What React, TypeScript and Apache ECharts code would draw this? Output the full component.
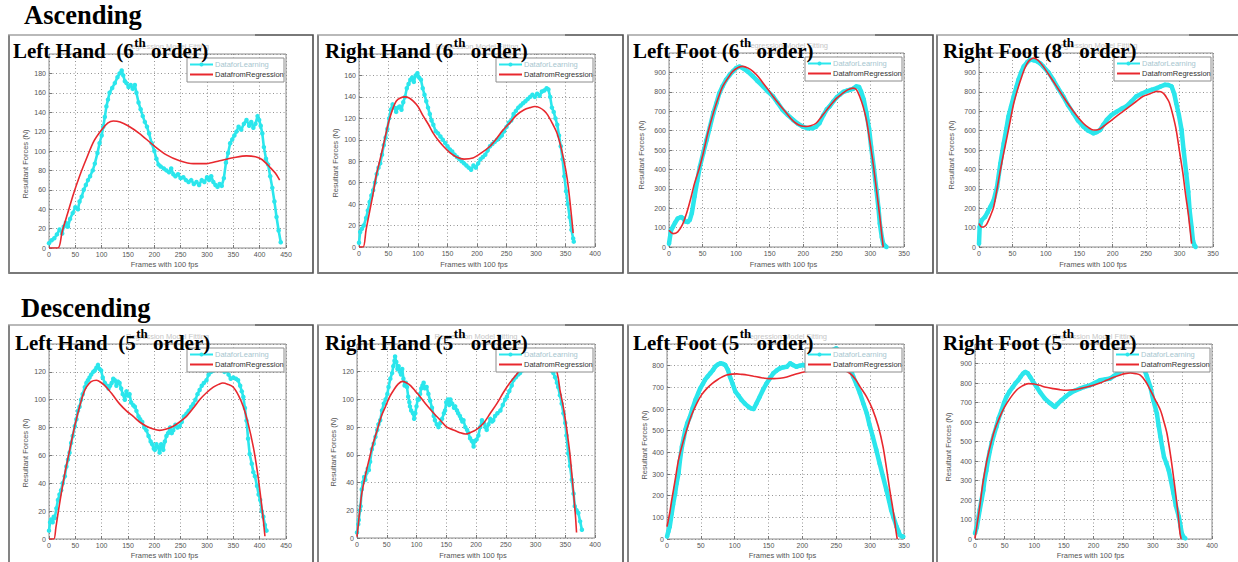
import React, { useEffect, useRef } from 'react';
import * as echarts from 'echarts';

// ---------------- DATA ----------------
// Ascending – Left Hand (6th order)
const ascLHx = [0,5,10,15,20,25,28,32,36,40,45,50,55,58,62,66,70,74,78,83,87,92,96,100,103,106,109,112,115,120,125,130,134,138,141,144,147,151,155,159,163,166,170,174,178,182,186,190,195,200,204,208,212,218,223,228,232,236,240,245,250,255,260,265,270,275,280,285,290,295,300,304,308,312,316,320,324,328,332,336,340,344,348,352,356,360,365,370,375,380,384,388,392,396,399,402,405,408,412,416,420,424,428,432,436,440];
const ascLHy = [5,8,10,14,19,15,22,26,22,30,36,42,40,48,53,60,65,70,74,80,87,98,108,116,125,135,146,153,160,165,170,176,180,183,178,172,170,166,168,164,168,160,150,143,136,130,125,118,108,100,92,86,84,82,80,78,82,76,74,76,72,73,70,68,70,66,68,65,70,68,73,70,74,68,65,63,66,64,72,88,98,108,112,116,120,125,122,128,132,126,130,124,128,136,132,126,118,104,92,86,74,62,48,32,18,6];
const ascLHfitX = [0,17,25,35,46,58,71,85,100,112,122,135,150,172,198,223,248,274,299,324,350,375,392,405,420,430,438];
const ascLHfitY = [0,0,17,35,55,74,92,110,122,129,131,130,126,118,106,96,90,87,87,90,93,95,94,91,83,77,70];

// Ascending – Right Hand (6th order)
const ascRHx = [0,2,5,8,12,15,18,21,24,27,30,33,36,39,42,45,48,51,54,57,60,63,66,69,72,75,78,81,84,87,90,93,96,99,102,105,108,111,114,117,120,123,126,130,134,138,142,146,150,154,158,162,166,170,174,178,182,186,190,194,198,202,206,210,214,218,222,226,230,234,238,242,246,250,254,258,262,266,270,274,278,282,286,290,294,298,302,306,310,314,318,321,324,327,330,333,336,339,342,345,348,351,354,357,360,363,364];
const ascRHy = [4,14,17,20,27,34,42,48,53,60,68,74,78,86,95,102,110,120,128,133,130,126,130,131,128,135,140,148,152,156,158,154,160,162,158,156,148,142,136,130,124,118,114,108,106,103,100,97,94,91,89,86,84,82,80,78,76,74,72,76,74,78,82,84,86,90,94,96,98,100,102,104,108,112,116,118,124,127,130,132,134,136,138,140,142,140,143,141,145,146,148,147,140,130,126,120,114,104,94,82,66,52,40,28,16,8,5];
const ascRHfitX = [0,7,12,18,24,29,35,41,47,52,58,63,70,78,85,92,100,109,118,126,135,143,154,165,178,193,208,222,233,244,256,267,280,290,298,306,314,320,328,335,341,346,351,355,359,363];
const ascRHfitY = [0,0,16,33,50,66,80,94,109,120,130,136,139,140,139,136,131,122,114,106,99,94,88,84,82,83,88,94,101,109,116,123,128,130,131,130,127,123,115,107,96,84,70,55,35,13];

// Ascending – Left Foot (6th order)
const ascLFx = [0,3,6,9,13,18,21,24,28,31,34,38,42,46,51,56,61,66,71,75,80,85,90,95,100,105,110,117,125,132,140,147,155,162,169,177,185,192,199,207,214,219,224,230,235,239,245,250,254,260,265,269,274,279,283,286,290,294,298,301,305,309,312,314,317,319,322,324];
const ascLFy = [17,86,105,125,147,155,148,132,129,140,175,260,340,414,485,552,620,690,745,793,830,862,885,905,922,930,922,905,880,855,828,802,776,742,707,680,655,635,621,612,612,620,638,680,710,724,752,772,784,800,806,810,815,828,825,802,760,690,610,517,410,293,200,121,50,17,5,0];
const ascLFfitX = [0,6,13,20,26,32,38,45,51,58,66,73,80,88,95,103,110,118,125,133,140,148,155,165,175,182,189,196,204,211,219,229,239,249,259,266,274,279,284,289,294,299,304,309,314,317,319];
const ascLFfitY = [86,69,78,115,172,245,328,405,483,590,690,765,828,872,905,925,931,922,905,878,845,810,776,732,690,660,638,625,621,625,638,680,724,765,793,810,819,812,776,725,655,548,431,295,155,60,0];

// Ascending – Right Foot (8th order)
const ascRFx = [0,1,4,9,13,17,22,27,32,37,41,44,48,52,56,59,63,67,72,77,82,87,92,96,104,111,118,126,133,141,148,156,163,171,176,181,186,191,198,206,213,220,228,235,243,251,258,266,272,278,283,288,292,295,299,303,306,310,313,315,318,320,322,324];
const ascRFy = [17,103,138,155,180,207,241,310,431,534,610,672,725,776,825,862,900,931,952,966,963,957,945,931,900,862,820,776,732,690,652,621,600,586,592,603,630,655,680,698,712,724,750,776,790,802,810,819,828,836,835,828,790,741,680,603,500,379,285,190,100,34,10,0];
const ascRFfitX = [0,4,8,12,17,22,27,32,37,42,47,52,58,64,69,74,82,89,96,106,116,126,136,146,156,164,171,179,186,195,205,215,225,235,245,256,266,272,277,282,285,290,295,300,305,309,313,316,318];
const ascRFfitY = [121,103,105,121,160,207,300,397,485,569,655,741,815,879,925,957,974,960,931,880,828,775,724,678,638,615,603,606,621,645,672,698,724,750,776,790,802,800,788,762,741,680,603,490,379,270,172,80,17];

// Descending – Left Hand (5th order)
const descLHx = [0,2,4,7,9,11,14,17,20,23,26,30,33,36,39,42,45,49,52,55,58,61,64,68,71,74,77,80,84,87,90,93,96,99,102,106,110,113,116,119,122,125,128,131,134,137,140,144,147,150,153,156,160,163,166,170,173,177,181,185,189,193,196,199,201,204,207,210,213,217,220,223,226,230,233,236,240,244,248,252,256,261,265,270,274,278,282,286,290,294,299,303,308,312,316,320,324,328,333,337,341,345,350,355,359,363,366,369,372,375,378,381,385,388,391,395,398,401,404,407,410,413];
const descLHy = [6,12,14,12,16,15,22,28,32,35,40,45,52,57,62,69,74,81,86,92,95,100,104,109,112,114,116,118,120,121,123,125,122,121,116,112,110,108,110,112,115,114,110,113,112,108,104,100,106,103,104,98,96,95,92,88,86,84,80,78,74,70,68,65,64,68,66,62,68,64,70,74,76,80,76,78,82,80,81,84,88,90,92,95,97,100,104,107,110,112,114,118,120,121,124,122,122,124,120,121,118,115,116,115,114,110,106,102,94,85,72,61,54,48,45,38,32,28,20,16,10,6];
const descLHfitX = [0,9,13,17,23,30,36,42,50,58,65,71,80,90,100,109,120,134,147,160,172,185,198,210,223,236,248,261,274,286,299,312,322,330,340,350,360,369,378,388,395,401,406,410];
const descLHfitY = [0,0,8,18,32,47,58,69,83,95,104,109,113,114,112,109,104,97,92,88,84,81,79,78,79,81,84,88,94,100,105,109,111,112,111,109,103,95,83,66,50,33,17,2];

// Descending – Right Hand (5th order)
const descRHx = [0,2,3,5,6,8,10,12,14,16,18,20,22,25,28,31,34,36,39,42,45,48,51,53,56,59,61,63,64,66,68,70,72,74,76,78,80,82,84,86,88,89,91,94,96,98,100,102,104,106,108,110,112,114,117,120,123,126,129,131,134,137,140,143,146,148,150,153,155,157,160,163,165,168,170,173,175,177,179,182,185,187,190,193,196,198,201,204,207,210,213,216,218,221,224,227,229,232,236,241,245,249,252,256,260,263,267,271,274,278,282,285,290,294,297,301,305,308,312,316,319,322,326,330,333,336,338,341,344,347,350,352,355,358,361,364,366,369,372,375,378];
const descRHy = [4,10,13,20,23,35,40,44,42,47,50,49,55,64,68,73,78,82,85,92,97,100,104,109,115,119,124,128,131,127,122,124,120,118,122,115,110,112,109,102,98,95,92,90,86,90,95,100,100,104,108,110,112,108,109,104,99,94,88,85,82,80,83,86,90,92,98,100,96,100,97,94,95,92,90,88,86,84,85,80,78,76,72,70,66,70,71,74,80,85,83,80,78,82,86,84,85,88,90,92,96,100,102,106,110,114,116,118,119,121,122,124,126,127,128,130,127,126,125,124,124,122,121,119,116,112,109,103,97,90,83,74,61,52,42,32,23,20,18,12,6];
const descRHfitX = [0,4,8,14,20,27,34,41,48,55,62,69,76,83,90,98,106,117,129,140,151,162,173,182,190,200,213,224,235,246,257,268,280,291,302,313,324,332,338,341,347,352,358,364,367,369];
const descRHfitY = [1,17,32,45,56,68,78,88,95,102,107,111,113,112,110,106,102,96,90,85,80,78,76,75,76,78,83,90,97,105,112,118,124,128,131,132,131,126,116,107,94,80,60,32,17,4];

// Descending – Left Foot (5th order)
const descLFx = [0,2,4,7,9,12,14,17,19,22,25,27,30,34,38,42,46,49,53,56,60,64,68,71,75,79,83,86,90,93,97,101,106,110,115,120,124,128,132,137,142,147,152,157,162,167,172,177,182,186,191,196,201,206,211,216,222,228,234,240,245,250,255,260,265,270,275,280,285,290,295,299,304,309,314,319,324,328,331,335,339,342,344,347,349];
const descLFy = [11,35,57,118,160,211,255,303,360,426,470,503,535,565,605,642,672,695,716,734,750,765,780,795,805,811,808,803,780,749,715,680,660,642,625,611,603,600,625,657,690,718,742,765,778,788,793,795,811,803,795,800,803,798,796,795,800,815,835,858,872,880,868,845,815,795,749,712,672,625,580,528,472,412,349,288,226,175,134,95,57,35,18,12,11];
const descLFfitX = [0,4,7,12,17,23,29,36,44,51,59,67,74,81,88,96,103,110,118,128,137,144,150,158,167,177,186,195,204,215,226,238,250,260,270,278,285,295,304,312,319,324,329,333,336,338,340];
const descLFfitY = [57,120,180,272,365,440,503,570,626,665,695,718,734,747,757,761,762,760,757,751,746,742,740,740,742,748,757,765,772,780,788,792,790,780,765,738,703,655,595,520,426,330,226,150,88,40,0];

// Descending – Right Foot (5th order)
const descRFx = [0,3,5,8,11,14,16,19,22,25,28,32,36,40,45,49,53,58,64,68,73,77,81,85,89,93,98,104,110,118,126,132,135,140,146,153,160,168,177,185,194,202,211,219,228,234,240,248,256,264,270,273,278,284,290,296,301,307,310,313,316,319,323,327,331,335,339,344,347,349,352,355];
const descRFy = [29,60,97,150,200,250,302,350,404,450,490,535,575,620,660,698,729,755,780,798,814,832,848,857,850,831,806,780,752,720,698,684,677,694,712,730,746,760,771,780,788,800,814,818,823,835,848,865,882,898,910,916,905,882,835,780,712,643,580,524,470,421,388,353,295,234,170,114,65,29,10,3];
const descRFfitX = [0,4,8,13,19,26,33,41,50,60,70,80,90,100,109,120,132,143,155,166,177,189,200,211,222,233,244,253,262,271,279,288,296,304,313,319,324,330,335,340,344,346,348];
const descRFfitY = [3,85,166,280,387,480,558,620,677,725,763,785,797,795,788,778,771,766,763,765,771,779,788,800,814,828,840,848,852,848,840,808,763,715,660,600,541,430,319,200,90,29,0];

// Axis ranges and titles
const xMaxes = [450, 400, 350, 350, 450, 400, 350, 400];
const yMaxes = [200, 180, 1000, 1000, 140, 140, 900, 1000];
const ySteps = [20, 20, 100, 100, 20, 20, 100, 100];
const titleMain = ['Left Hand  (6', 'Right Hand (6', 'Left Foot (6', 'Right Foot (8', 'Left Hand  (5', 'Right Hand (5', 'Left Foot (5', 'Right Foot (5'];
const titleSup = ['th', 'th', 'th', 'th', 'th', 'th', 'th', 'th'];
const titleEnd = [' order)', ' order)', ' order)', ' order)', ' order)', ' order)', ' order)', ' order)'];
const sectionLabels = ['Ascending', 'Descending'];
const legendLabels = ['DataforLearning', 'DatafromRegression'];
const axesTitle = 'Regression Model Fitting';
const xAxisName = 'Frames with 100 fps';
const yAxisName = 'Resultant Forces (N)';

const dataXs = [ascLHx, ascRHx, ascLFx, ascRFx, descLHx, descRHx, descLFx, descRFx];
const dataYs = [ascLHy, ascRHy, ascLFy, ascRFy, descLHy, descRHy, descLFy, descRFy];
const fitXs = [ascLHfitX, ascRHfitX, ascLFfitX, ascRFfitX, descLHfitX, descRHfitX, descLFfitX, descRFfitX];
const fitYs = [ascLHfitY, ascRHfitY, ascLFfitY, ascRFfitY, descLHfitY, descRHfitY, descLFfitY, descRFfitY];
const isFoot = [false, false, true, true, false, false, true, true];

// ---------------- LAYOUT ----------------
const layouts = [
  { grid: [49, 54, 237, 194], frame: [9, 35, 304, 238], tx: 13, yn: [25, 164] },
  { grid: [359, 54, 236, 193], frame: [318, 35, 305, 238], tx: 325, yn: [335, 163] },
  { grid: [669, 53, 235, 194], frame: [628, 35, 305, 238], tx: 633, yn: [641, 155] },
  { grid: [979, 53, 234, 194], frame: [937, 35, 310, 238], tx: 943, yn: [951, 155] },
  { grid: [49, 344, 237, 195], frame: [9, 325, 304, 250], tx: 15, yn: [25, 453] },
  { grid: [357, 344, 238, 194], frame: [318, 325, 305, 250], tx: 325, yn: [333, 452] },
  { grid: [667, 344, 237, 195], frame: [628, 325, 305, 250], tx: 633, yn: [644, 445] },
  { grid: [975, 344, 237, 195], frame: [937, 325, 310, 250], tx: 943, yn: [948, 447] },
];

const CYAN = '#2be6ec';
const RED = '#e8282e';
const SANS = 'Liberation Sans, Arial, sans-serif';
const SERIF = '"Liberation Serif", "Times New Roman", serif';

function zip(xs: number[], ys: number[]) {
  return xs.map((x, i) => [x, ys[i]]);
}

let measureCtx: CanvasRenderingContext2D | null = null;
function measure(text: string, font: string) {
  if (!measureCtx) measureCtx = document.createElement('canvas').getContext('2d');
  if (!measureCtx) return text.length * 10;
  measureCtx.font = font;
  return measureCtx.measureText(text).width;
}

function buildOption() {
  const grids: any[] = [];
  const xAxes: any[] = [];
  const yAxes: any[] = [];
  const series: any[] = [];
  const graphics: any[] = [];

  const label = { fontSize: 7, color: '#555', margin: 3, fontFamily: SANS };
  const split = { show: true, lineStyle: { color: '#7a7a7a', type: [1, 2.5], width: 0.8 } };
  const tick = { show: true, inside: true, length: 3, lineStyle: { color: '#777' } };
  const mainFont = `bold 21px ${SERIF}`;
  const supFont = `bold 13px ${SERIF}`;

  layouts.forEach((L, i) => {
    const [gl, gt, gw, gh] = L.grid;
    const [fx, fy, fw, fh] = L.frame;
    const row = i < 4 ? 0 : 1;
    grids.push({ left: gl, top: gt, width: gw, height: gh, show: true, borderColor: '#8c8c8c', borderWidth: 1, backgroundColor: '#fff' });
    xAxes.push({
      type: 'value', gridIndex: i, min: 0, max: xMaxes[i], interval: 50,
      axisLine: { show: false }, axisTick: tick, splitLine: split, axisLabel: label,
    });
    yAxes.push({
      type: 'value', gridIndex: i, min: 0, max: yMaxes[i], interval: ySteps[i],
      axisLine: { show: false }, axisTick: tick, splitLine: split,
      axisLabel: { ...label, showMaxLabel: false },
    });
    const foot = isFoot[i];
    series.push({
      type: 'line', name: legendLabels[0], xAxisIndex: i, yAxisIndex: i,
      data: zip(dataXs[i], dataYs[i]),
      symbol: 'circle', symbolSize: 4.5, showSymbol: true,
      lineStyle: { color: CYAN, width: foot ? 4.5 : 2.6 },
      itemStyle: { color: CYAN }, z: 2,
    });
    series.push({
      type: 'line', name: legendLabels[1], xAxisIndex: i, yAxisIndex: i,
      data: zip(fitXs[i], fitYs[i]), smooth: 0.3, symbol: 'none',
      lineStyle: { color: RED, width: 1.6 }, z: 3,
    });

    // frame
    graphics.push({ type: 'rect', shape: { x: fx, y: fy, width: fw, height: fh }, style: { fill: 'none', stroke: '#4d4d4d', lineWidth: 1.6 }, z: 1 });
    graphics.push({ type: 'line', shape: { x1: fx - 1, y1: fy, x2: fx + fw - 58, y2: fy }, style: { stroke: '#b9b9b9', lineWidth: 2 }, z: 2 });
    graphics.push({ type: 'line', shape: { x1: fx, y1: fy, x2: fx, y2: fy + fh }, style: { stroke: '#8a8a8a', lineWidth: 1.6 }, z: 2 });

    // faint axes title
    graphics.push({ type: 'text', x: gl + gw / 2, y: gt - 8, style: { text: axesTitle, fontSize: 7.5, fontFamily: SANS, fill: '#c6c6c6', align: 'center', verticalAlign: 'middle' }, z: 40 });

    // axis names
    graphics.push({ type: 'text', x: gl + gw / 2 - 3, y: row === 0 ? 264.5 : 555.5, style: { text: xAxisName, fontSize: 7.5, fontFamily: SANS, fill: '#555', align: 'center', verticalAlign: 'middle' }, z: 40 });
    graphics.push({ type: 'text', x: L.yn[0], y: L.yn[1], rotation: Math.PI / 2, style: { text: yAxisName, fontSize: 7.5, fontFamily: SANS, fill: '#555', align: 'center', verticalAlign: 'middle' }, z: 40 });

    // legend
    const bx = gl + gw - 99;
    const by = gt + 4;
    graphics.push({ type: 'rect', shape: { x: bx, y: by, width: 97, height: 24 }, style: { fill: '#fff', stroke: '#8c8c8c', lineWidth: 1 }, z: 50 });
    graphics.push({ type: 'line', shape: { x1: bx + 3, y1: by + 6.5, x2: bx + 26, y2: by + 6.5 }, style: { stroke: CYAN, lineWidth: 2 }, z: 51 });
    graphics.push({ type: 'circle', shape: { cx: bx + 14.5, cy: by + 6.5, r: 2 }, style: { fill: CYAN }, z: 51 });
    graphics.push({ type: 'text', x: bx + 28, y: by + 6.5, style: { text: legendLabels[0], fontSize: 7.5, fontFamily: SANS, fill: '#a7c6cf', verticalAlign: 'middle' }, z: 51 });
    graphics.push({ type: 'line', shape: { x1: bx + 3, y1: by + 16.5, x2: bx + 26, y2: by + 16.5 }, style: { stroke: RED, lineWidth: 2 }, z: 51 });
    graphics.push({ type: 'text', x: bx + 28, y: by + 16.5, style: { text: legendLabels[1], fontSize: 7.5, fontFamily: SANS, fill: '#333', verticalAlign: 'middle' }, z: 51 });

    // panel title: main part, superscript, end part
    const base = row === 0 ? 56.7 : 348.5;
    const w1 = measure(titleMain[i], mainFont);
    const w2 = measure(titleSup[i], supFont);
    const tStyle = { fontSize: 21, fontWeight: 'bold', fontFamily: SERIF, fill: '#000', verticalAlign: 'middle' };
    graphics.push({ type: 'text', x: L.tx, y: base - 5.6, style: { ...tStyle, text: titleMain[i] }, z: 60 });
    graphics.push({ type: 'text', x: L.tx + w1 + 0.5, y: base - 14.7, style: { ...tStyle, fontSize: 13, text: titleSup[i] }, z: 60 });
    graphics.push({ type: 'text', x: L.tx + w1 + w2 + 0.5, y: base - 5.6, style: { ...tStyle, text: titleEnd[i] }, z: 60 });
  });

  graphics.push({ type: 'text', x: 24, y: 14.5, style: { text: sectionLabels[0], fontSize: 26.5, fontWeight: 'bold', fontFamily: SERIF, fill: '#000', verticalAlign: 'middle' }, z: 60 });
  graphics.push({ type: 'text', x: 21, y: 308, style: { text: sectionLabels[1], fontSize: 26.5, fontWeight: 'bold', fontFamily: SERIF, fill: '#000', verticalAlign: 'middle' }, z: 60 });

  return {
    animation: false,
    backgroundColor: '#fff',
    grid: grids,
    xAxis: xAxes,
    yAxis: yAxes,
    series,
    graphic: { elements: graphics },
  };
}

export default function App() {
  const ref = useRef<HTMLDivElement>(null);
  useEffect(() => {
    const chart = echarts.init(ref.current as HTMLDivElement, null, { renderer: 'svg' });
    chart.setOption(buildOption() as any);
    return () => chart.dispose();
  }, []);
  return (
    <div
      ref={ref}
      style={{ position: 'fixed', left: 0, top: 0, width: 1238, height: 562, background: '#fff' }}
    />
  );
}
